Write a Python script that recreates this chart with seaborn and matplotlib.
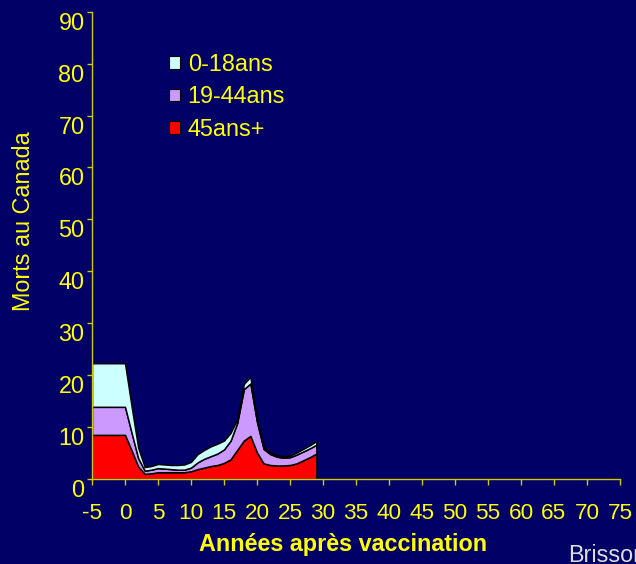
import matplotlib
matplotlib.use("Agg")
import matplotlib.pyplot as plt
from matplotlib.patches import Patch
import pandas as pd
import seaborn as sns

# Deaths in Canada by age group, years relative to vaccination
years = list(range(-5, 30))
deaths_0_18 = [8.4, 8.4, 8.4, 8.4, 8.4, 8.4, 5.1, 2.0, 0.7, 0.7,
               0.8, 0.8, 0.8, 0.9, 1.0, 1.1, 1.6, 1.7, 1.9, 1.9,
               1.7, 1.5, 0.7, 1.0, 1.3, 0.4, 0.4, 0.3, 0.3, 0.3,
               0.3, 0.4, 0.5, 0.6, 0.7]
deaths_19_44 = [5.4, 5.4, 5.4, 5.4, 5.4, 5.4, 3.4, 1.6, 0.6, 0.7,
                0.8, 0.7, 0.6, 0.5, 0.5, 0.7, 1.3, 1.7, 1.9, 2.2,
                2.6, 3.6, 5.2, 9.9, 10.1, 5.9, 2.8, 2.1, 1.7, 1.5,
                1.5, 1.7, 1.7, 1.7, 1.7]
deaths_45_plus = [8.5, 8.5, 8.5, 8.5, 8.5, 8.5, 5.5, 2.4, 1.0, 1.1,
                  1.3, 1.3, 1.3, 1.3, 1.3, 1.5, 1.9, 2.2, 2.5, 2.7,
                  3.1, 3.8, 5.6, 7.4, 8.3, 5.1, 3.0, 2.7, 2.6, 2.6,
                  2.7, 3.0, 3.6, 4.2, 4.9]

groups = ["0-18ans", "19-44ans", "45ans+"]
group_colors = ["#CCFFFF", "#CC99FF", "#FF0000"]
x_ticks = list(range(-5, 80, 5))
y_ticks = list(range(0, 100, 10))

BG = "#000066"
YELLOW = "#FFFF00"
AXIS = "#CCCC00"

sns.set_theme(style="white")
plt.rcParams["font.family"] = ["Liberation Sans", "DejaVu Sans"]
plt.rcParams["axes.unicode_minus"] = False

df = pd.concat([
    pd.DataFrame({"annee": years, "groupe": g, "morts": v})
    for g, v in zip(groups, [deaths_0_18, deaths_19_44, deaths_45_plus])
], ignore_index=True)

fig = plt.figure(figsize=(6.36, 5.64), dpi=100, facecolor=BG)
ax = fig.add_axes([92 / 636, 1 - 479 / 564, 528 / 636, (479 - 11.7) / 564])
ax.set_facecolor(BG)

sns.histplot(data=df, x="annee", hue="groupe", weights="morts",
             discrete=True, element="poly", multiple="stack",
             hue_order=groups, palette=dict(zip(groups, group_colors)),
             edgecolor="black", linewidth=1.1, alpha=1, legend=False, ax=ax)

ax.set_xlim(-5, 75)
ax.set_ylim(0, 90)

for side in ("top", "right"):
    ax.spines[side].set_visible(False)
for side in ("left", "bottom"):
    ax.spines[side].set_color(AXIS)
    ax.spines[side].set_linewidth(1.0)
    ax.spines[side].set_zorder(5)

fs = 16.8
ax.set_xticks(x_ticks)
ax.set_xticklabels([str(v) for v in x_ticks])
ax.set_yticks(y_ticks)
ax.set_yticklabels([str(v) for v in y_ticks])
ax.tick_params(axis="x", direction="out", length=4.3, width=1.0,
               color=AXIS, labelcolor=YELLOW, labelsize=16.2, pad=13, bottom=True)
ax.tick_params(axis="y", direction="out", length=3.6, width=1.0,
               color=AXIS, labelcolor=YELLOW, labelsize=fs, pad=1.8, left=True)
plt.setp(ax.get_yticklabels(), va="top")

ax.set_ylabel("Morts au Canada", color=YELLOW, fontsize=fs)
ax.yaxis.set_label_coords((24 - 92) / 528, (479 - 221) / 467.3)
ax.yaxis.label.set_va("center")

ax.set_xlabel("Années après vaccination", color=YELLOW, fontsize=fs,
              fontweight="bold")
ax.xaxis.set_label_coords((343.5 - 92) / 528, (479 - 551) / 467.3)
ax.xaxis.label.set_va("baseline")

handles = [Patch(facecolor=c, edgecolor="black", linewidth=0.8)
           for c in group_colors]
leg = ax.legend(handles, groups, loc="upper left",
                bbox_to_anchor=((169 - 92) / 528, (479 - 53) / 467.3),
                frameon=False, fontsize=fs, labelcolor=YELLOW,
                borderpad=0, borderaxespad=0, handlelength=0.45,
                handleheight=0.45, handletextpad=0.35, labelspacing=0.4)

fig.text(568 / 636, 1 - 562 / 564, "Brisson", color="#DDDDDD",
         fontsize=fs, ha="left", va="baseline")

fig.savefig("out.png", dpi=100, facecolor=BG)
